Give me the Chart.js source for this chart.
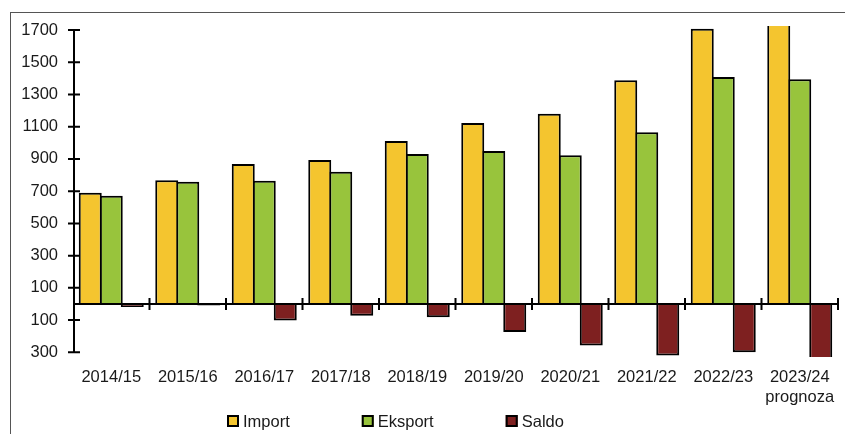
<!DOCTYPE html>
<html>
<head>
<meta charset="utf-8">
<script src="https://cdn.jsdelivr.net/npm/chart.js@4.4.1/dist/chart.umd.min.js"></script>
<style>
    html, body { margin: 0; padding: 0; background: #fff; overflow: hidden; }
    #wrap { position: relative; width: 845px; height: 434px; }
    #frame { position: absolute; left: 10px; top: 12px; width: 900px; height: 500px; border: 1px solid #555; }
    #terChart { position: absolute; left: 0; top: 0; }
</style>
</head>
<body>
<div id="wrap">
    <div id="frame"></div>
    <canvas id="terChart" width="845" height="434"></canvas>
</div>
<script>
/*  Import / eksport / saldo by season  */

var categories = ["2014/15", "2015/16", "2016/17", "2017/18", "2018/19",
                  "2019/20", "2020/21", "2021/22", "2022/23", ["2023/24", "prognoza"]];
var importValues = [691, 768, 869, 894, 1011, 1123, 1181, 1388, 1708, 1760];
var exportValues = [672, 759, 765, 821, 931, 949, 923, 1066, 1408, 1395];
var saldoValues  = [-19, -9, -102, -73, -82, -174, -258, -320, -300, -365];
var yTicks = [-300, -100, 100, 300, 500, 700, 900, 1100, 1300, 1500, 1700];

var FONT = "'Liberation Sans', Arial, sans-serif";
var TEXT = "#1a1a1a";

/* ====== AXES: y line with crossing ticks, x line at zero with group ticks ====== */
var axesPlugin = {
    id: "crossAxes",
    afterDatasetsDraw: function (chart) {
        var ctx = chart.ctx, area = chart.chartArea;
        var ys = chart.scales.y;
        var ax = area.left + 1;
        var zero = ys.getPixelForValue(0);
        ctx.save();
        ctx.strokeStyle = "#000";
        ctx.lineWidth = 2;
        ctx.beginPath();
        ctx.moveTo(ax, ys.getPixelForValue(yTicks[0]) + 1);
        ctx.lineTo(ax, ys.getPixelForValue(yTicks[yTicks.length - 1]) - 1);
        yTicks.forEach(function (v) {
            var py = ys.getPixelForValue(v);
            ctx.moveTo(ax - 6, py);
            ctx.lineTo(ax + 6, py);
        });
        ctx.moveTo(area.left, zero);
        ctx.lineTo(area.right, zero);
        var step = area.width / categories.length;
        for (var i = 1; i <= categories.length; i++) {
            var bx = area.left + i * step;
            ctx.moveTo(bx, zero - 6);
            ctx.lineTo(bx, zero + 6);
        }
        ctx.stroke();
        ctx.restore();
    }
};

/* ====== LEGEND ====== */
var legendPlugin = {
    id: "rowLegend",
    afterDraw: function (chart) {
        var ctx = chart.ctx;
        var x = 227, base = 427, gap = 72;
        ctx.save();
        ctx.font = "16.5px " + FONT;
        ctx.textBaseline = "alphabetic";
        chart.data.datasets.forEach(function (ds) {
            ctx.fillStyle = ds.backgroundColor;
            ctx.fillRect(x, 415, 12, 12);
            ctx.strokeStyle = "#000";
            ctx.lineWidth = 2;
            ctx.strokeRect(x + 1, 416, 10, 10);
            ctx.fillStyle = TEXT;
            ctx.fillText(ds.label, x + 16, base);
            x += 16 + ctx.measureText(ds.label).width + gap;
        });
        ctx.restore();
    }
};

function barSet(label, data, color) {
    return {
        label: label,
        data: data,
        backgroundColor: color,
        borderColor: "#000",
        borderWidth: 2,
        borderSkipped: "start",
        categoryPercentage: 0.8235,
        barPercentage: 1.095,
        clip: 0
    };
}

var chart = new Chart(document.getElementById("terChart").getContext("2d"), {
    type: "bar",
    data: {
        labels: categories,
        datasets: [
            barSet("Import", importValues, "#F4C52F"),
            barSet("Eksport", exportValues, "#98C43C"),
            barSet("Saldo", saldoValues, "#7E2020")
        ]
    },
    options: {
        responsive: false,
        animation: false,
        layout: { padding: { left: 0, top: 26, right: 7, bottom: 0 } },
        plugins: {
            legend: { display: false },
            tooltip: { enabled: false }
        },
        scales: {
            x: {
                grid: { display: false, drawTicks: false },
                border: { display: false },
                ticks: {
                    color: TEXT,
                    padding: 10,
                    maxRotation: 0,
                    autoSkip: false,
                    font: { family: FONT, size: 16.5, lineHeight: 1.22 }
                },
                afterFit: function (s) { s.height = 77; }
            },
            y: {
                min: -329,
                max: 1725,
                grid: { display: false, drawTicks: false },
                border: { display: false },
                ticks: {
                    color: TEXT,
                    padding: 15,
                    font: { family: FONT, size: 16.5 },
                    callback: function (v) { return String(Math.abs(v)); }
                },
                afterBuildTicks: function (s) {
                    s.ticks = yTicks.map(function (v) { return { value: v }; });
                },
                afterFit: function (s) { s.width = 73; }
            }
        }
    },
    plugins: [axesPlugin, legendPlugin]
});
</script>
</body>
</html>
